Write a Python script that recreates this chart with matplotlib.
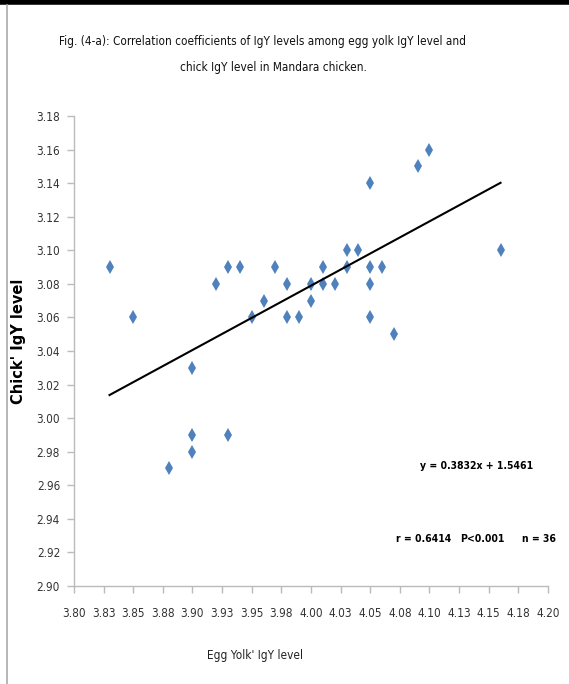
import matplotlib.pyplot as plt
from matplotlib.lines import Line2D
import numpy as np

# egg yolk IgY (x) vs chick IgY (y), Mandara chicken
egg_yolk = [3.83, 3.85, 3.88, 3.90, 3.90, 3.90, 3.92, 3.93, 3.93, 3.94,
            3.95, 3.96, 3.97, 3.98, 3.98, 3.99, 4.00, 4.00, 4.01, 4.01,
            4.02, 4.03, 4.03, 4.04, 4.05, 4.05, 4.05, 4.05, 4.06, 4.07,
            4.09, 4.10, 4.16]
chick = [3.09, 3.06, 2.97, 3.03, 2.99, 2.98, 3.08, 3.09, 2.99, 3.09,
         3.06, 3.07, 3.09, 3.08, 3.06, 3.06, 3.08, 3.07, 3.09, 3.08,
         3.08, 3.10, 3.09, 3.10, 3.14, 3.09, 3.08, 3.06, 3.09, 3.05,
         3.15, 3.16, 3.10]

slope = 0.3832
intercept = 1.5461

x_ticks = [3.80, 3.825, 3.85, 3.875, 3.90, 3.925, 3.95, 3.975, 4.00,
           4.025, 4.05, 4.075, 4.10, 4.125, 4.15, 4.175, 4.20]
x_labels = ['3.80', '3.83', '3.85', '3.88', '3.90', '3.93', '3.95', '3.98', '4.00',
            '4.03', '4.05', '4.08', '4.10', '4.13', '4.15', '4.18', '4.20']
y_ticks = [2.90, 2.92, 2.94, 2.96, 2.98, 3.00, 3.02, 3.04, 3.06, 3.08,
           3.10, 3.12, 3.14, 3.16, 3.18]

nf = dict(family='DejaVu Sans', stretch='condensed')

fig = plt.figure(figsize=(5.69, 6.84), dpi=100)
ax = fig.add_axes([0.130, 0.1433, 0.833, 0.6871])

ax.plot(egg_yolk, chick, linestyle='none', marker='d', markersize=7.5,
        color='#4F81BD', markeredgewidth=0)

xs = np.array([min(egg_yolk), max(egg_yolk)])
ax.plot(xs, slope * xs + intercept, color='black', linewidth=1.5)

ax.set_xlim(3.80, 4.20)
ax.set_ylim(2.90, 3.18)
ax.set_xticks(x_ticks)
ax.set_xticklabels(x_labels, fontsize=8.5, color='#333333', **nf)
ax.set_yticks(y_ticks)
ax.set_yticklabels(['%.2f' % v for v in y_ticks], fontsize=8.5,
                   color='#333333', **nf)
ax.tick_params(axis='both', direction='out', length=5, width=1, color='#BBBBBB')
ax.tick_params(axis='x', pad=10)
ax.tick_params(axis='y', pad=5)

for side in ['top', 'right']:
    ax.spines[side].set_visible(False)
for side in ['left', 'bottom']:
    ax.spines[side].set_color('#BBBBBB')
    ax.spines[side].set_linewidth(1)

ax.set_xlabel("Egg Yolk' IgY level", fontsize=8.5, color='#222222', va='center',
              **nf)
ax.xaxis.set_label_coords(0.382, -0.147)
ax.set_ylabel("Chick' IgY level", family='DejaVu Sans', fontsize=10.5,
              fontweight='bold', va='center')
ax.yaxis.set_label_coords(-0.118, 0.521)

ax.text(0.85, 0.255, 'y = 0.3832x + 1.5461', transform=ax.transAxes,
        fontsize=7.5, fontweight='bold', ha='center', va='center', **nf)
ax.text(0.737, 0.10, 'r = 0.6414', transform=ax.transAxes,
        fontsize=7.5, fontweight='bold', ha='center', va='center', **nf)
ax.text(0.861, 0.10, 'P<0.001', transform=ax.transAxes,
        fontsize=7.5, fontweight='bold', ha='center', va='center', **nf)
ax.text(0.982, 0.10, 'n = 36', transform=ax.transAxes,
        fontsize=7.5, fontweight='bold', ha='center', va='center', **nf)

fig.text(0.462, 0.940, 'Fig. (4-a): Correlation coefficients of IgY levels among egg yolk IgY level and',
         fontsize=8.5, ha='center', va='center', color='#111111', **nf)
fig.text(0.48, 0.9006, 'chick IgY level in Mandara chicken.',
         fontsize=8.5, ha='center', va='center', color='#111111', **nf)

# frame pieces around the figure
fig.add_artist(Line2D([0, 1], [0.9965, 0.9965], transform=fig.transFigure,
                      color='black', linewidth=4))
fig.add_artist(Line2D([0.0125, 0.0125], [0, 0.993], transform=fig.transFigure,
                      color='#AAAAAA', linewidth=1.2))

fig.savefig('out.png', dpi=100)
